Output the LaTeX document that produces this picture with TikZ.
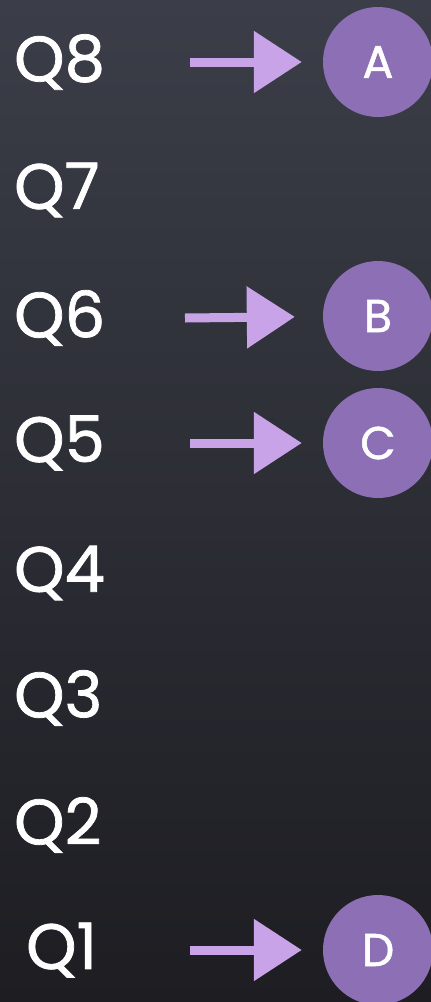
\documentclass[tikz,border=0pt]{standalone}
\usepackage{fontspec}
\setmainfont{Poppins}
\newfontfamily\chalkfont[FakeBold=1.2]{Poppins}
\usepackage{xcolor}
\usetikzlibrary{arrows.meta, positioning}
\definecolor{board}{HTML}{3B3E48}
\definecolor{boarddark}{HTML}{1D1D22}
\definecolor{chalkpurple}{HTML}{C9A3E8}
\definecolor{dotpurple}{HTML}{8C6FB4}

\begin{document}
\begin{tikzpicture}[x=1pt, y=-1pt,
    qlabel/.style={anchor=west, inner sep=0pt, text=white, font=\chalkfont\fontsize{64}{64}\selectfont},
    answer/.style={circle, fill=dotpurple, minimum size=110pt, inner sep=0pt,
      text=white, font=\chalkfont\fontsize{46}{46}\selectfont},
    chalkarrow/.style={draw=chalkpurple, line width=9pt,
      -{Triangle[length=48pt, width=60pt]}, shorten >=21pt}]
  % chalkboard background
  \shade[top color=board, bottom color=boarddark] (0,0) rectangle (431,1002);
  \useasboundingbox (0,0) rectangle (431,1002);
  % question labels, Q8 at top down to Q1
  \foreach \n/\y in {8/62, 7/190, 6/318, 5/443, 4/573, 3/698, 2/825} {
    \node[qlabel] (q\n) at (14,\y) {Q\n};
  }
  \node[qlabel] (q1) at (26,950) {Q1};
  % answer circles
  \node[answer] (a) at (378,62) {A};
  \node[answer] (b) at (378,316) {B};
  \node[answer] (c) at (378,443) {C};
  \node[answer] (d) at (378,950) {D};
  % arrow tails
  \coordinate (ta) at (190,62);
  \coordinate (tb) at (185,318);
  \coordinate (tc) at (190,443);
  \coordinate (td) at (190,950);
  % arrows
  \draw[chalkarrow] (ta) -- (a);
  \draw[chalkarrow, shorten >=28pt] (tb) -- (b);
  \draw[chalkarrow] (tc) -- (c);
  \draw[chalkarrow] (td) -- (d);
\end{tikzpicture}
\end{document}
